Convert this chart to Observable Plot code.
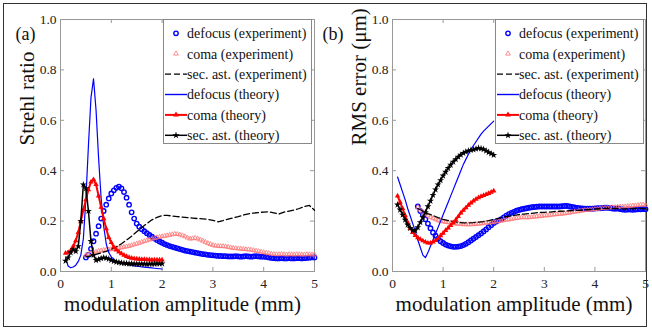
<!DOCTYPE html>
<html><head><meta charset="utf-8">
<script src="https://cdn.jsdelivr.net/npm/d3@7"></script>
<script src="https://cdn.jsdelivr.net/npm/@observablehq/plot@0.6"></script>
<style>
body{margin:0;background:#fff;}
#fig{position:relative;width:652px;height:331px;font-family:'Liberation Serif',serif;overflow:hidden;}
#border{position:absolute;left:3px;top:3px;width:642px;height:322px;border:1.5px solid #333;}
.panel{position:absolute;top:0;overflow:visible;}
.panel text{font-family:'Liberation Serif',serif !important;}
.legend{position:absolute;}
.legend text{font-family:'Liberation Serif',serif;}
</style></head><body>
<div id="fig"><div id="border"></div></div>
<script>
// ---------- tick labels ----------
const xTicks = [0, 1, 2, 3, 4, 5];
const yTicks = [0, 0.2, 0.4, 0.6, 0.8, 1.0];
const xLabel = "modulation amplitude (mm)";
const yLabelA = "Strehl ratio";
const yLabelB = "RMS error (\u03bcm)";
const seriesNames = ["defocus (experiment)", "coma (experiment)", "sec. ast. (experiment)",
  "defocus (theory)", "coma (theory)", "sec. ast. (theory)"];

// sampling of the curves (mm)
const expStart = 0.5, expStep = 0.05;     // experiment markers
const dashStart = 0.5, dashStep = 0.1;    // sec. ast. experiment line
const thStart = 0.1, thStep = 0.05;       // theory curves

// ---------- (a) Strehl ratio ----------
const strehlDefocusExp = [0.056,0.066,0.09,0.12,0.15,0.18,0.21,0.24,0.265,0.29,0.31,0.322,0.332,0.337,0.33,0.315,0.293,0.265,0.235,0.21,0.19,0.178,0.168,0.16,0.152,0.145,0.138,0.131,0.125,0.119,0.114,0.109,0.105,0.101,0.098,0.095,0.092,0.089,0.086,0.083,0.081,0.079,0.077,0.075,0.073,0.071,0.069,0.068,0.066,0.065,0.064,0.063,0.062,0.062,0.061,0.061,0.06,0.06,0.06,0.061,0.06,0.059,0.06,0.061,0.06,0.059,0.06,0.061,0.06,0.059,0.059,0.058,0.056,0.054,0.053,0.052,0.052,0.053,0.052,0.052,0.053,0.052,0.052,0.053,0.053,0.052,0.053,0.054,0.055,0.056,0.056];
const strehlComaExp = [0.065,0.068,0.072,0.075,0.078,0.081,0.083,0.085,0.086,0.087,0.088,0.089,0.091,0.093,0.095,0.097,0.099,0.101,0.104,0.107,0.11,0.113,0.117,0.12,0.123,0.126,0.129,0.132,0.135,0.137,0.139,0.141,0.143,0.145,0.147,0.149,0.148,0.146,0.143,0.139,0.134,0.13,0.131,0.133,0.13,0.126,0.122,0.117,0.112,0.108,0.104,0.102,0.101,0.1,0.1,0.099,0.097,0.095,0.093,0.092,0.091,0.09,0.089,0.088,0.087,0.086,0.084,0.082,0.08,0.078,0.076,0.074,0.072,0.07,0.069,0.068,0.068,0.069,0.068,0.067,0.068,0.068,0.067,0.068,0.068,0.067,0.067,0.068,0.068,0.067,0.067];
const strehlSecExp = [0.058,0.062,0.068,0.074,0.08,0.088,0.098,0.11,0.125,0.14,0.158,0.175,0.19,0.205,0.215,0.222,0.223,0.22,0.218,0.216,0.214,0.212,0.21,0.209,0.207,0.203,0.197,0.202,0.208,0.213,0.218,0.224,0.229,0.232,0.234,0.236,0.237,0.233,0.228,0.236,0.24,0.244,0.25,0.258,0.262,0.243];
const strehlDefocusTh = [0.055,0.022,0.015,0.018,0.025,0.04,0.065,0.13,0.29,0.5,0.69,0.765,0.64,0.45,0.29,0.18,0.11,0.075,0.058,0.048,0.042,0.037,0.034,0.031,0.028,0.026,0.024,0.022,0.021,0.02,0.018,0.017,0.016,0.015,0.014,0.013,0.012,0.011,0.01];
const strehlComaTh = [0.073,0.076,0.083,0.1,0.122,0.155,0.2,0.245,0.285,0.325,0.355,0.365,0.345,0.3,0.255,0.21,0.17,0.135,0.115,0.097,0.086,0.078,0.071,0.065,0.06,0.056,0.053,0.051,0.05,0.049,0.048,0.048,0.047,0.047,0.046,0.046,0.046,0.046,0.046];
const strehlSecTh = [0.042,0.055,0.075,0.088,0.08,0.1,0.2,0.345,0.33,0.24,0.12,0.065,0.045,0.048,0.052,0.055,0.053,0.05,0.045,0.041,0.038,0.036,0.034,0.033,0.032,0.031,0.031,0.03,0.03,0.03,0.03,0.03,0.029,0.03,0.03,0.03,0.031,0.031,0.031];

// ---------- (b) RMS error ----------
const rmsDefocusExp = [0.258,0.24,0.225,0.207,0.19,0.172,0.155,0.142,0.13,0.12,0.113,0.107,0.103,0.1,0.098,0.098,0.099,0.101,0.105,0.11,0.116,0.123,0.13,0.137,0.144,0.151,0.159,0.167,0.176,0.184,0.192,0.198,0.203,0.208,0.215,0.222,0.228,0.233,0.237,0.241,0.244,0.247,0.249,0.251,0.253,0.255,0.256,0.257,0.258,0.258,0.258,0.258,0.258,0.258,0.258,0.258,0.258,0.259,0.26,0.26,0.258,0.256,0.254,0.252,0.251,0.25,0.249,0.249,0.249,0.249,0.25,0.251,0.251,0.252,0.253,0.253,0.252,0.25,0.249,0.25,0.248,0.246,0.245,0.246,0.246,0.245,0.246,0.247,0.247,0.248,0.247];
const rmsComaExp = [0.255,0.245,0.237,0.229,0.222,0.216,0.211,0.207,0.203,0.2,0.198,0.196,0.195,0.193,0.191,0.19,0.189,0.188,0.187,0.187,0.186,0.187,0.187,0.188,0.189,0.19,0.191,0.193,0.194,0.195,0.196,0.198,0.2,0.201,0.203,0.205,0.206,0.208,0.21,0.211,0.213,0.215,0.215,0.214,0.215,0.216,0.217,0.218,0.219,0.22,0.222,0.222,0.223,0.225,0.226,0.227,0.228,0.229,0.23,0.232,0.233,0.235,0.237,0.238,0.24,0.241,0.243,0.244,0.245,0.246,0.247,0.248,0.25,0.251,0.252,0.253,0.254,0.254,0.255,0.256,0.257,0.257,0.258,0.259,0.26,0.261,0.262,0.263,0.264,0.265,0.264];
const rmsSecExp = [0.25,0.24,0.23,0.222,0.214,0.207,0.202,0.198,0.195,0.193,0.193,0.194,0.196,0.198,0.202,0.207,0.211,0.216,0.22,0.223,0.226,0.228,0.23,0.232,0.234,0.235,0.236,0.238,0.239,0.24,0.241,0.242,0.243,0.245,0.246,0.248,0.249,0.25,0.25,0.25,0.249,0.248,0.249,0.25,0.25,0.249];
const rmsDefocusTh = [0.375,0.345,0.315,0.285,0.25,0.22,0.19,0.16,0.125,0.095,0.065,0.055,0.075,0.1,0.125,0.15,0.175,0.2,0.225,0.25,0.275,0.3,0.325,0.35,0.375,0.4,0.425,0.445,0.465,0.485,0.5,0.515,0.53,0.545,0.557,0.567,0.577,0.587,0.597];
const rmsComaTh = [0.3,0.275,0.25,0.222,0.195,0.172,0.155,0.143,0.134,0.128,0.122,0.117,0.113,0.113,0.117,0.123,0.132,0.142,0.152,0.163,0.173,0.183,0.194,0.205,0.218,0.232,0.243,0.253,0.263,0.272,0.28,0.287,0.293,0.298,0.302,0.306,0.31,0.315,0.32];
const rmsSecTh = [0.265,0.245,0.225,0.205,0.185,0.172,0.163,0.163,0.175,0.195,0.215,0.235,0.258,0.28,0.303,0.325,0.345,0.362,0.38,0.395,0.41,0.423,0.435,0.445,0.455,0.463,0.47,0.475,0.479,0.482,0.484,0.487,0.49,0.488,0.485,0.479,0.473,0.468,0.462];

// ---------- styles ----------
const BLUE = "#0000ff", RED = "#ff0000", PINK = "#ff7373", BLACK = "#000";
const FONT = "'Liberation Serif', serif";

function toPts(arr, start, step) {
  return arr.map((v, i) => ({x: +(start + i * step).toFixed(3), y: v}));
}

function makePanel(opts) {
  const W = opts.W, H = 331;
  const mL = opts.mL, mR = opts.mR, mT = 19, mB = 60;
  const innerW = W - mL - mR, innerH = H - mT - mB;
  const dExp = toPts(opts.defExp, expStart, expStep);
  const cExp = toPts(opts.comaExp, expStart, expStep);
  const sExp = toPts(opts.secExp, dashStart, dashStep);
  const dTh = toPts(opts.defTh, thStart, thStep);
  const cTh = toPts(opts.comaTh, thStart, thStep);
  const sTh = toPts(opts.secTh, thStart, thStep);
  return Plot.plot({
    width: W, height: H,
    marginLeft: mL, marginRight: mR, marginTop: mT, marginBottom: mB,
    style: {fontFamily: FONT, fontSize: "13px", color: "#222", background: "transparent", overflow: "visible"},
    x: {domain: [0, 5]},
    y: {domain: [0, 1]},
    marks: [
      Plot.frame({stroke: "#999", strokeWidth: 1}),
      Plot.tickX(xTicks, {x: d => d, insetTop: innerH - 4, stroke: "#999"}),
      Plot.tickX(xTicks, {x: d => d, insetBottom: innerH - 4, stroke: "#999"}),
      Plot.tickY(yTicks, {y: d => d, insetRight: innerW - 4, stroke: "#999"}),
      Plot.tickY(yTicks, {y: d => d, insetLeft: innerW - 4, stroke: "#999"}),
      Plot.axisX({ticks: xTicks, tickSize: 0, tickPadding: 7, tickFormat: d => String(d), label: null, fontSize: 13.5}),
      Plot.axisY({ticks: yTicks, tickSize: 0, tickPadding: 4, tickFormat: d => d.toFixed(1), label: null, fontSize: 13.5}),
      Plot.dot(dExp, {x: "x", y: "y", r: 2.2, stroke: BLUE, strokeWidth: 1.4, fill: "none"}),
      Plot.dot(cExp, {x: "x", y: "y", symbol: "triangle", r: 1.7, stroke: PINK, strokeWidth: 0.8, fill: "none"}),
      Plot.line(sExp, {x: "x", y: "y", stroke: BLACK, strokeWidth: 1.3, strokeDasharray: "6,3"}),
      Plot.line(dTh, {x: "x", y: "y", stroke: BLUE, strokeWidth: 1.2}),
      Plot.line(cTh, {x: "x", y: "y", stroke: RED, strokeWidth: 2}),
      Plot.dot(cTh, {x: "x", y: "y", symbol: "triangle", r: 2, fill: RED}),
      Plot.line(sTh, {x: "x", y: "y", stroke: BLACK, strokeWidth: 1.5}),
      Plot.dot(sTh, {x: "x", y: "y", symbol: "star", r: 2.2, fill: BLACK}),
      Plot.text([xLabel], {text: d => d, frameAnchor: "bottom", dy: 39, dx: -5, fontSize: 21, fill: "#111"}),
      Plot.text([opts.yLabel], {text: d => d, frameAnchor: "left", dx: -33, rotate: -90, fontSize: 21, fill: "#111"}),
      Plot.text([opts.tag], {text: d => d, frameAnchor: "top-left", textAnchor: "start", dx: opts.tagDx, dy: 8, fontSize: 18, fill: "#111"})
    ]
  });
}

function makeLegend() {
  const w = 148, h = 124, row = 20.4, y0 = 14.3;
  const svg = d3.create("svg").attr("width", w + 2).attr("height", h + 2);
  svg.append("rect").attr("x", 0.5).attr("y", 0.5).attr("width", w).attr("height", h)
    .attr("fill", "white").attr("stroke", "#888").attr("stroke-width", 1);
  const g = svg.append("g");
  seriesNames.forEach((name, i) => {
    const y = y0 + i * row;
    const cx = 13;
    if (i === 0) g.append("circle").attr("cx", cx).attr("cy", y).attr("r", 2.2).attr("fill", "none").attr("stroke", BLUE).attr("stroke-width", 1.4);
    if (i === 1) g.append("path").attr("d", d3.symbol(d3.symbolTriangle, 10)()).attr("transform", `translate(${cx},${y})`).attr("fill", "none").attr("stroke", PINK).attr("stroke-width", 0.8);
    if (i === 2) g.append("line").attr("x1", 2).attr("x2", 24).attr("y1", y).attr("y2", y).attr("stroke", BLACK).attr("stroke-width", 1.3).attr("stroke-dasharray", "6,3");
    if (i === 3) g.append("line").attr("x1", 2).attr("x2", 24).attr("y1", y).attr("y2", y).attr("stroke", BLUE).attr("stroke-width", 1.4);
    if (i === 4) {
      g.append("line").attr("x1", 2).attr("x2", 24).attr("y1", y).attr("y2", y).attr("stroke", RED).attr("stroke-width", 2);
      g.append("path").attr("d", d3.symbol(d3.symbolTriangle, 14)()).attr("transform", `translate(${cx},${y})`).attr("fill", RED);
    }
    if (i === 5) {
      g.append("line").attr("x1", 2).attr("x2", 24).attr("y1", y).attr("y2", y).attr("stroke", BLACK).attr("stroke-width", 1.5);
      g.append("path").attr("d", d3.symbol(d3.symbolStar, 16)()).attr("transform", `translate(${cx},${y})`).attr("fill", BLACK);
    }
    g.append("text").attr("x", 24).attr("y", y).attr("dy", "0.35em")
      .attr("font-size", 14).attr("fill", "#111").text(name);
  });
  return svg.node();
}

const fig = document.getElementById("fig");
const pa = makePanel({W: 316, mL: 60, mR: 2, yLabel: yLabelA, tag: "(a)", tagDx: -45,
  defExp: strehlDefocusExp, comaExp: strehlComaExp, secExp: strehlSecExp,
  defTh: strehlDefocusTh, comaTh: strehlComaTh, secTh: strehlSecTh});
pa.classList.add("panel"); pa.style.left = "0px";
fig.appendChild(pa);
const pb = makePanel({W: 336, mL: 76, mR: 7, yLabel: yLabelB, tag: "(b)", tagDx: -70,
  defExp: rmsDefocusExp, comaExp: rmsComaExp, secExp: rmsSecExp,
  defTh: rmsDefocusTh, comaTh: rmsComaTh, secTh: rmsSecTh});
pb.classList.add("panel"); pb.style.left = "316px";
fig.appendChild(pb);

const la = makeLegend(); la.classList.add("legend"); la.style.left = "163px"; la.style.top = "19px";
fig.appendChild(la);
const lb = makeLegend(); lb.classList.add("legend"); lb.style.left = "495px"; lb.style.top = "19px";
fig.appendChild(lb);
</script>
</body></html>
